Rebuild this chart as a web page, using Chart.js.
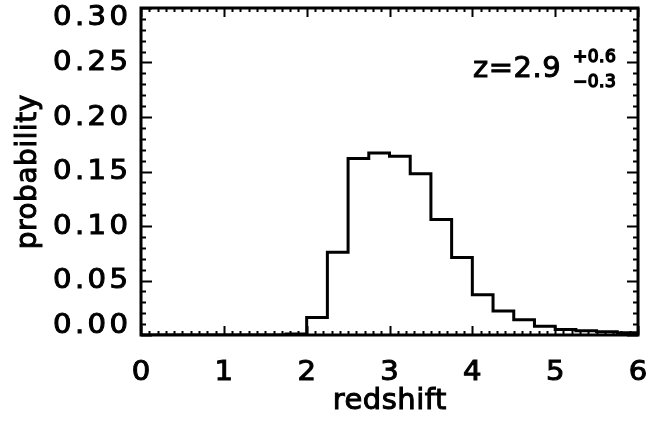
<!DOCTYPE html>
<html>
<head>
<meta charset="utf-8">
<script src="https://cdn.jsdelivr.net/npm/chart.js@4.4.1/dist/chart.umd.min.js"></script>
<style>
  html, body { margin: 0; padding: 0; background: #fff; }
  #wrap { width: 649px; height: 423px; position: relative; }
</style>
</head>
<body>
<div id="wrap"><canvas id="zChart"></canvas></div>
<script>
// Redshift probability histogram (bin width 0.25)
const binEdges = [0, 0.25, 0.5, 0.75, 1.0, 1.25, 1.5, 1.75, 2.0, 2.25, 2.5, 2.75,
                  3.0, 3.25, 3.5, 3.75, 4.0, 4.25, 4.5, 4.75, 5.0, 5.25, 5.5, 5.75, 6.0];
const probability = [0, 0, 0, 0, 0, 0, 0, 0.001, 0.016, 0.076, 0.162, 0.167,
                     0.164, 0.148, 0.106, 0.071, 0.037, 0.022, 0.014, 0.008, 0.005, 0.004, 0.003, 0.002];
const xTickValues = [0, 1, 2, 3, 4, 5, 6];
const xTickLabels = ['0', '1', '2', '3', '4', '5', '6'];
const yTickValues = [0, 0.05, 0.10, 0.15, 0.20, 0.25, 0.30];
const yTickLabels = ['0.00', '0.05', '0.10', '0.15', '0.20', '0.25', '0.30'];
const xTitle = 'redshift';
const yTitle = 'probability';
const zLabel = ['z=2.9', '+0.6', '\u22120.3'];

const FONT = "'DejaVu Sans', sans-serif";

// step points: each bin's value sits on its left edge, last one closes at 6
const stepPoints = binEdges.map((e, i) => ({ x: e, y: probability[Math.min(i, probability.length - 1)] }));

// text a bit wider and heavier, like the IDL vector font
function drawText(ctx, text, x, y, align, size, sx, spacing, weight) {
    ctx.save();
    ctx.translate(x, y);
    ctx.scale(sx, 1);
    ctx.font = size + 'px ' + FONT;
    ctx.letterSpacing = spacing + 'px';
    ctx.textAlign = align;
    let dx = 0;
    if (align === 'right') dx = spacing;
    if (align === 'center') dx = spacing / 2;
    ctx.fillText(text, dx, 0);
    ctx.lineWidth = weight || 1;
    ctx.strokeText(text, dx, 0);
    ctx.restore();
}

// inward ticks on all four sides, box and all text
const boxPlugin = {
    id: 'box',
    afterDraw(chart) {
        const { ctx, chartArea: a, scales: { x, y } } = chart;
        ctx.save();
        ctx.strokeStyle = '#000';
        ctx.lineWidth = 2;
        ctx.beginPath();
        for (let i = 0; i <= 60; i++) {
            const px = Math.round(x.getPixelForValue(i / 10)) + 0.5;
            const len = i % 10 === 0 ? 9 : 4;
            ctx.moveTo(px, a.bottom); ctx.lineTo(px, a.bottom - len);
            ctx.moveTo(px, a.top); ctx.lineTo(px, a.top + len);
        }
        for (let i = 0; i <= 30; i++) {
            const py = Math.round(y.getPixelForValue(i / 100)) + 0.5;
            const len = i % 5 === 0 ? 11 : 5;
            ctx.moveTo(a.left, py); ctx.lineTo(a.left + len, py);
            ctx.moveTo(a.right, py); ctx.lineTo(a.right - len, py);
        }
        ctx.stroke();
        ctx.lineWidth = 3;
        ctx.strokeRect(a.left, a.top, a.right - a.left, a.bottom - a.top);

        ctx.fillStyle = '#000';
        ctx.strokeStyle = '#000';
        ctx.textBaseline = 'middle';

        xTickValues.forEach((v, i) => {
            drawText(ctx, xTickLabels[i], x.getPixelForValue(v), 373, 'center', 26, 1.12, 2);
        });
        yTickValues.forEach((v, i) => {
            const py = Math.min(Math.max(y.getPixelForValue(v), a.top + 9), a.bottom - 10);
            drawText(ctx, yTickLabels[i], a.left - 13, py + 1, 'right', 26, 1.12, 3);
        });

        drawText(ctx, xTitle, (a.left + a.right) / 2, 401, 'center', 29, 1, 0.5);
        ctx.save();
        ctx.translate(29, 172);
        ctx.rotate(-Math.PI / 2);
        drawText(ctx, yTitle, 0, 0, 'center', 28, 1, 0.5);
        ctx.restore();

        // z label with asymmetric errors
        ctx.textBaseline = 'alphabetic';
        drawText(ctx, zLabel[0], 473, 77, 'left', 29, 1, 0.5);
        drawText(ctx, zLabel[1], 573, 62, 'left', 17, 1, 0.5, 1.5);
        drawText(ctx, zLabel[2], 573, 87, 'left', 17, 1, 0.5, 1.5);
        ctx.restore();
    }
};

new Chart(document.getElementById('zChart'), {
    type: 'line',
    data: {
        datasets: [{
            data: stepPoints,
            stepped: 'before',
            borderColor: '#000',
            borderWidth: 3,
            pointRadius: 0,
            fill: false
        }]
    },
    options: {
        responsive: true,
        maintainAspectRatio: false,
        animation: false,
        layout: { padding: { top: 8, right: 11, left: 0, bottom: 0 } },
        plugins: {
            legend: { display: false },
            tooltip: { enabled: false }
        },
        scales: {
            x: {
                type: 'linear',
                min: 0,
                max: 6,
                grid: { display: false, drawTicks: false },
                border: { display: false },
                ticks: { display: false, stepSize: 1 },
                afterFit(scale) {
                    scale.height = 88;
                    scale.paddingLeft = 0;
                    scale.paddingRight = 0;
                }
            },
            y: {
                min: 0,
                max: 0.30,
                grid: { display: false, drawTicks: false },
                border: { display: false },
                ticks: { display: false, stepSize: 0.05 },
                afterFit(scale) {
                    scale.width = 141;
                    scale.paddingTop = 0;
                    scale.paddingBottom = 0;
                }
            }
        }
    },
    plugins: [boxPlugin]
});
</script>
</body>
</html>
